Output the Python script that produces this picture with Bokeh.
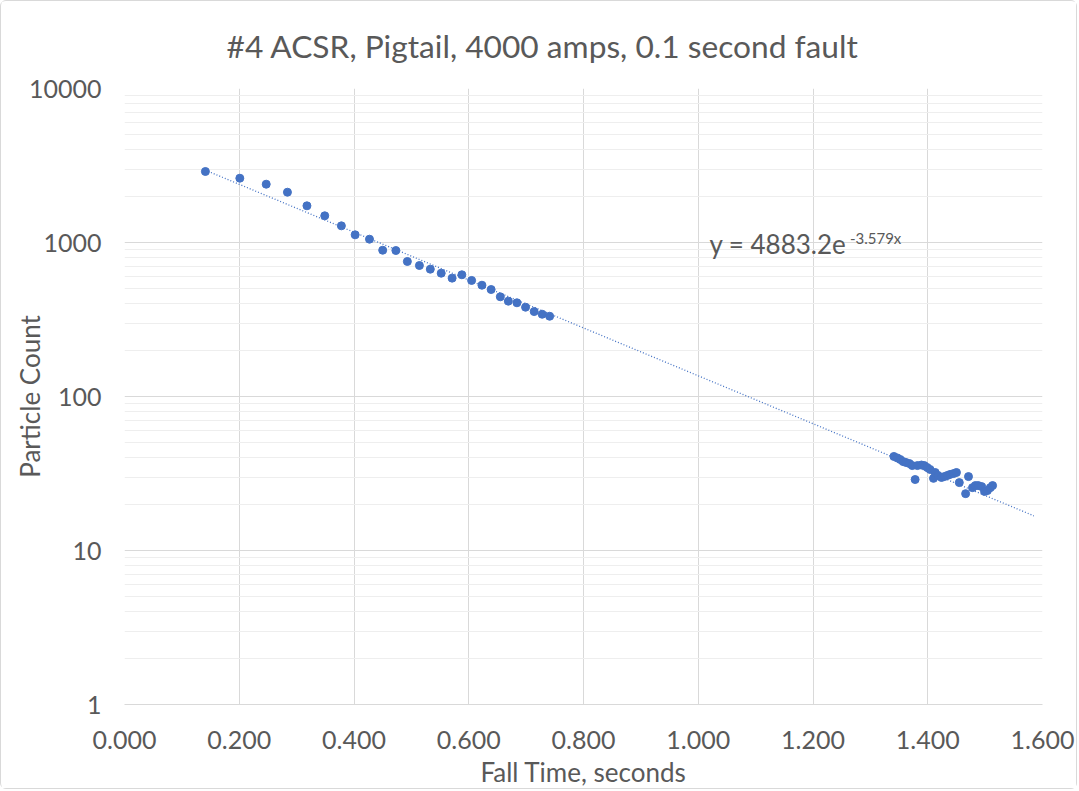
from bokeh.plotting import figure
from bokeh.models import (FixedTicker, NumeralTickFormatter, PrintfTickFormatter,
                          Range1d, Label)
from bokeh.embed import file_html
from bokeh.resources import INLINE
import numpy as np

# ---- data ----
fall_time_early = [0.141, 0.201, 0.247, 0.284, 0.318, 0.349, 0.378, 0.402, 0.427,
                   0.450, 0.473, 0.493, 0.514, 0.533, 0.552, 0.571, 0.588, 0.605,
                   0.623, 0.639, 0.655, 0.669, 0.684, 0.699, 0.714, 0.728, 0.741]
count_early = [2891, 2615, 2391, 2121, 1731, 1491, 1283, 1122, 1051,
               891, 887, 753, 709, 671, 632, 587, 617, 567,
               528, 495, 444, 416, 406, 380, 356, 342, 332]

fall_time_late = [1.341, 1.347, 1.352, 1.357, 1.362, 1.368, 1.373, 1.378, 1.382,
                  1.389, 1.394, 1.399, 1.404, 1.410, 1.413, 1.418, 1.424, 1.429,
                  1.434, 1.439, 1.445, 1.450, 1.455, 1.466, 1.471, 1.478, 1.483,
                  1.488, 1.494, 1.499, 1.504, 1.509, 1.513]
count_late = [40.8, 39.9, 39.0, 37.8, 37.3, 36.7, 35.6, 28.9, 35.6,
              35.9, 35.6, 34.6, 33.6, 29.4, 32.1, 30.7, 29.8, 30.2,
              30.7, 31.2, 31.6, 32.1, 27.6, 23.4, 30.2, 25.6, 26.4,
              26.4, 26.0, 24.2, 24.5, 25.6, 26.4]

fit_a = 4883.2
fit_b = -3.579
fit_x_start = 0.141
fit_x_end = 1.585

x_ticks = [0.0, 0.2, 0.4, 0.6, 0.8, 1.0, 1.2, 1.4, 1.6]
y_ticks = [1, 10, 100, 1000, 10000]

title_text = "#4 ACSR, Pigtail, 4000 amps, 0.1 second fault"
x_label = "Fall Time, seconds"
y_label = "Particle Count"
eq_main = "y = 4883.2e"
eq_sup = "-3.579x"

TXT = "#595959"
BLUE = "#4472C4"
FONT = "Lato"

p = figure(width=1077, height=789, y_axis_type="log",
           x_range=Range1d(0, 1.6), y_range=Range1d(1, 10000),
           output_backend="svg", toolbar_location=None,
           min_border_left=123, min_border_right=36,
           min_border_top=87, min_border_bottom=86)
p.styles = {"border": "1px solid #d9d9d9", "border-radius": "6px"}

p.title.text = title_text
p.title.align = "left"
p.title.offset = 102
p.title.text_font = FONT
p.title.text_font_size = "31.7px"
p.title.text_font_style = "normal"
p.title.text_color = TXT
p.title.standoff = 47

p.outline_line_color = None
p.background_fill_color = "white"
p.border_fill_color = "white"

# axes
minor = [m * d for d in [1, 10, 100, 1000] for m in range(2, 10)]
p.yaxis.ticker = FixedTicker(ticks=y_ticks, minor_ticks=minor)
p.yaxis.formatter = PrintfTickFormatter(format="%d")
p.xaxis.ticker = FixedTicker(ticks=x_ticks)
p.xaxis.formatter = NumeralTickFormatter(format="0.000")

for ax in (p.xaxis, p.yaxis):
    ax.major_tick_line_color = None
    ax.minor_tick_line_color = None
    ax.major_label_text_font = FONT
    ax.major_label_text_font_size = "25px"
    ax.major_label_text_color = TXT
    ax.axis_label_text_font = FONT
    ax.axis_label_text_font_size = "26px"
    ax.axis_label_text_font_style = "normal"
    ax.axis_label_text_color = TXT

p.yaxis.axis_line_color = None
p.xaxis.axis_line_color = "#d9d9d9"
p.yaxis.major_label_standoff = 17
p.xaxis.major_label_standoff = 20
p.yaxis.axis_label = y_label
p.xaxis.axis_label = x_label
p.yaxis.axis_label_standoff = -20
p.xaxis.axis_label_standoff = 4

p.xgrid.grid_line_color = "#d9d9d9"
p.ygrid.grid_line_color = "#d9d9d9"
p.ygrid.minor_grid_line_color = "#eeeeee"

# trendline
fx = np.linspace(fit_x_start, fit_x_end, 50)
fy = fit_a * np.exp(fit_b * fx)
p.line(fx, fy, line_color=BLUE, line_width=1.3, line_dash="1 2")

# data
p.scatter(fall_time_early, count_early, size=8, fill_color=BLUE, line_color=BLUE)
p.scatter(fall_time_late, count_late, size=8, fill_color=BLUE, line_color=BLUE)

# equation
p.add_layout(Label(x=1.0194, y=980, text=eq_main, text_font=FONT,
                   text_font_size="26px", text_color=TXT,
                   text_baseline="alphabetic"))
p.add_layout(Label(x=1.2644, y=980, y_offset=6, text=eq_sup, text_font=FONT,
                   text_font_size="15px", text_color=TXT,
                   text_baseline="alphabetic"))

open("out.html", "w").write(file_html(p, INLINE))
